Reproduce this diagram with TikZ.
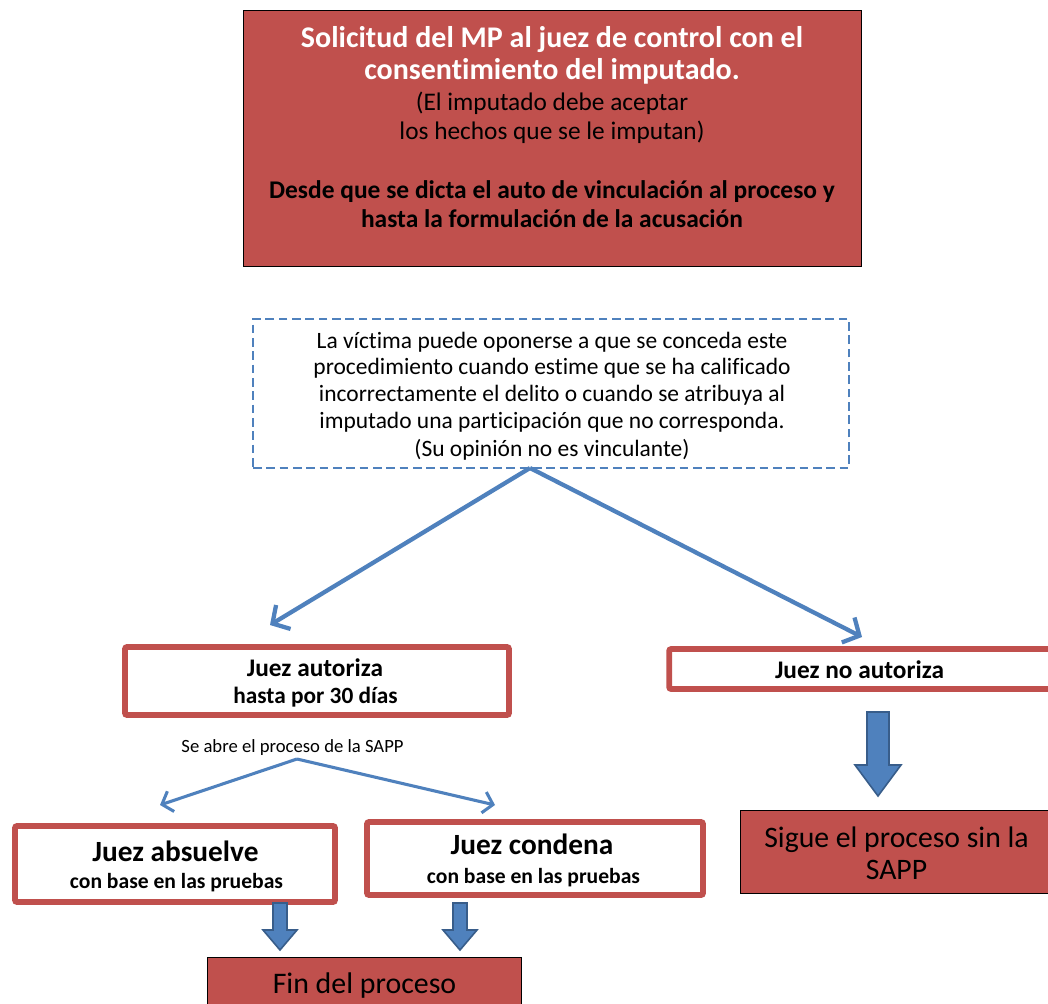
\documentclass[tikz,border=0pt]{standalone}
\usepackage{fontspec}
\setmainfont{Carlito}[Ligatures=NoCommon]
\usetikzlibrary{arrows.meta}
\definecolor{bred}{HTML}{C0504D}
\definecolor{bblue}{HTML}{4F81BD}
\definecolor{dblue}{HTML}{385D8A}
\begin{document}
\begin{tikzpicture}[x=0.75pt,y=-0.75pt,
  redbox/.style={draw=black, line width=0.6pt, fill=bred, inner sep=0pt},
  whitebox/.style={draw=bred, line width=4.3pt, fill=white, rounded corners=1.5pt, inner sep=0pt},
  dashbox/.style={draw=bblue, line width=1.9pt, dash pattern=on 6.5pt off 3.5pt, inner sep=0pt},
  txt/.style={anchor=base, inner sep=0pt, yshift=-0.75pt},
  flow/.style={draw=bblue, line width=3.2pt, -{Straight Barb[length=9.5pt,width=21pt]}},
  flowsm/.style={draw=bblue, line width=2.3pt, -{Straight Barb[length=7pt,width=16pt]}},
  barrow/.style={fill=bblue, draw=dblue, line width=1.2pt, line join=miter}
]
\clip (0,0) rectangle (1048,1003);
\fill[white] (0,0) rectangle (1048,1003);

% boxes
\node[redbox, minimum width=463.5pt, minimum height=192pt] (top) at (552,138) {};
\node[dashbox, minimum width=447pt, minimum height=111.75pt] (vic) at (551,393.5) {};
\node[whitebox, minimum width=288pt, minimum height=51pt] (aut) at (317,681) {};
\node[whitebox, minimum width=293pt, minimum height=30pt] (noaut) at (864.5,669) {};
\node[whitebox, minimum width=240pt, minimum height=57pt] (abs) at (175,864) {};
\node[whitebox, minimum width=252pt, minimum height=54.75pt] (con) at (535,858.5) {};
\node[redbox, minimum width=235.5pt, minimum height=39.75pt] (fin) at (364,983.5) {};
\node[redbox, minimum width=240pt, minimum height=62.25pt] (sigue) at (900,851.5) {};

% texts top box
\node[txt, text=white, font=\bfseries\fontsize{22.5}{27}\selectfont] (t1) at (552,46) {Solicitud del MP al juez de control con el};
\node[txt, text=white, font=\bfseries\fontsize{22.5}{27}\selectfont] (t2) at (552,78) {consentimiento del imputado.};
\node[txt, font=\fontsize{19}{23}\selectfont] (t3) at (552,109) {(El imputado debe aceptar};
\node[txt, font=\fontsize{19}{23}\selectfont] (t4) at (552,138) {los hechos que se le imputan)};
\node[txt, font=\bfseries\fontsize{19.1}{23}\selectfont] (t5) at (552,197) {Desde que se dicta el auto de vinculación al proceso y};
\node[txt, font=\bfseries\fontsize{19.1}{23}\selectfont] (t6) at (552,226) {hasta la formulación de la acusación};

% victim box
\node[txt, font=\fontsize{17.6}{21}\selectfont] (v1) at (552,347) {La víctima puede oponerse a que se conceda este};
\node[txt, font=\fontsize{17.6}{21}\selectfont] (v2) at (552,373) {procedimiento cuando estime que se ha calificado};
\node[txt, font=\fontsize{17.6}{21}\selectfont] (v3) at (552,400) {incorrectamente el delito o cuando se atribuya al};
\node[txt, font=\fontsize{17.6}{21}\selectfont] (v4) at (552,427) {imputado una participación que no corresponda.};
\node[txt, font=\fontsize{17.6}{21}\selectfont] (v5) at (552,455) {(Su opinión no es vinculante)};

% judge boxes
\node[txt, font=\bfseries\fontsize{19}{23}\selectfont] (a1) at (315,675) {Juez autoriza};
\node[txt, font=\bfseries\fontsize{17.5}{21}\selectfont] (a2) at (315.5,702) {hasta por 30 días};
\node[txt, font=\bfseries\fontsize{19}{23}\selectfont] (n1) at (859.5,677) {Juez no autoriza};
\node[txt, font=\fontsize{14}{17}\selectfont] (sa) at (292.5,751) {Se abre el proceso de la SAPP};
\node[txt, font=\bfseries\fontsize{22}{26}\selectfont] (b1) at (175.5,860) {Juez absuelve};
\node[txt, font=\bfseries\fontsize{16.2}{19}\selectfont] (b2) at (176.5,887) {con base en las pruebas};
\node[txt, font=\bfseries\fontsize{22}{26}\selectfont] (c1) at (532,853) {Juez condena};
\node[txt, font=\bfseries\fontsize{16.2}{19}\selectfont] (c2) at (533.5,882) {con base en las pruebas};
\node[txt, font=\fontsize{22.4}{27}\selectfont] (f1) at (364.5,992) {Fin del proceso};
\node[txt, font=\fontsize{22.3}{27}\selectfont] (s1) at (896.5,846) {Sigue el proceso sin la};
\node[txt, font=\fontsize{22.3}{27}\selectfont] (s2) at (896.5,878) {SAPP};

% connectors
\coordinate (split1) at (530,468);
\coordinate (e1) at (270,625);
\coordinate (e2) at (862,637);
\draw[flow] (split1) -- (e1);
\draw[flow] (split1) -- (e2);
\coordinate (split2) at (297,759);
\coordinate (e3) at (160,805);
\coordinate (e4) at (495,805);
\draw[flowsm] (split2) -- (e3);
\draw[flowsm] (split2) -- (e4);

% block arrows
\coordinate (ba1) at (280,903);
\coordinate (ba2) at (460,903);
\coordinate (bb) at (878,712);
\draw[barrow] (ba1) ++(-7,0) -- ++(14,0) -- ++(0,27) -- ++(10,0) -- ++(-17,20) -- ++(-17,-20) -- ++(10,0) -- cycle;
\draw[barrow] (ba2) ++(-7,0) -- ++(14,0) -- ++(0,27) -- ++(10,0) -- ++(-17,20) -- ++(-17,-20) -- ++(10,0) -- cycle;
\draw[barrow] (bb) ++(-11,0) -- ++(22,0) -- ++(0,53) -- ++(12,0) -- ++(-23,31) -- ++(-23,-31) -- ++(12,0) -- cycle;
\end{tikzpicture}
\end{document}
